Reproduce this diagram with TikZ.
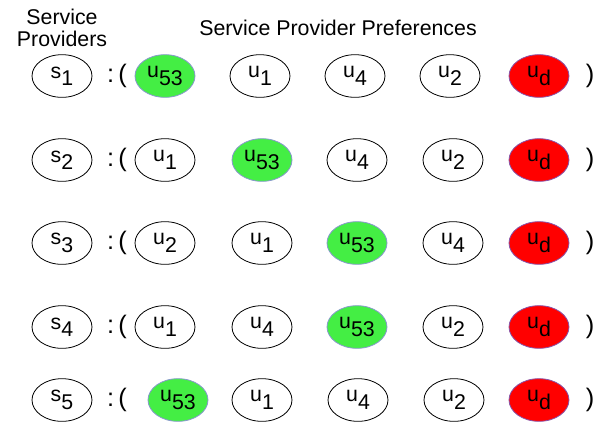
\documentclass[tikz,border=0pt]{standalone}
\usepackage{fontspec}
\setmainfont{Liberation Sans}
\usetikzlibrary{shapes.geometric}
\definecolor{BrightGreen}{HTML}{44EE44}
\definecolor{GreenEdge}{HTML}{8899CC}
\definecolor{BrightRed}{HTML}{FF0000}
\definecolor{RedEdge}{HTML}{8855AA}
\newcommand{\lab}[2]{\raisebox{.3ex}{#1}\raisebox{-.35ex}{#2}}
\tikzset{
  pref/.style={draw,semithick,ellipse,minimum width=45pt,minimum height=32pt,inner sep=0pt},
  chosen/.style={pref,fill=BrightGreen,draw=GreenEdge},
  dummy/.style={pref,fill=BrightRed,draw=RedEdge},
  heading/.style={align=center,font=\fontsize{16}{17}\selectfont},
  paren/.style={font=\fontsize{19}{20}\selectfont}
}

\begin{document}
\begin{tikzpicture}[x=0.75pt,y=-0.75pt,every node/.style={font=\fontsize{16}{19}\selectfont}]
  \useasboundingbox (0,0) rectangle (597,422);

  \node[heading] (provhead) at (62,28) {Service\\Providers};
  \node[heading] (prefhead) at (338,28) {Service Provider Preferences};

  \foreach \r/\y/\items in {%
    1/76/{165/53/chosen,260/1/pref,355/4/pref,450/2/pref},
    2/160/{165/1/pref,262/53/chosen,357/4/pref,453/2/pref},
    3/243/{165/2/pref,262/1/pref,357/53/chosen,453/4/pref},
    4/327/{165/1/pref,262/4/pref,357/53/chosen,453/2/pref},
    5/400/{178/53/chosen,262/1/pref,358/4/pref,454/2/pref}}{%
    \node[pref] (s\r) at (62,\y) {\lab{s}{\r}};
    \node[paren] (open\r) at (117,\y) {:\,(};
    \foreach \x/\n/\st [count=\i] in \items {%
      \node[\st] (u\r-\i) at (\x,\y) {\lab{u}{\n}};
    }
    \node[dummy] (ud\r) at (539,\y) {\lab{u}{d}};
    \node[paren] (close\r) at (590,\y) {)};
  }
\end{tikzpicture}
\end{document}
